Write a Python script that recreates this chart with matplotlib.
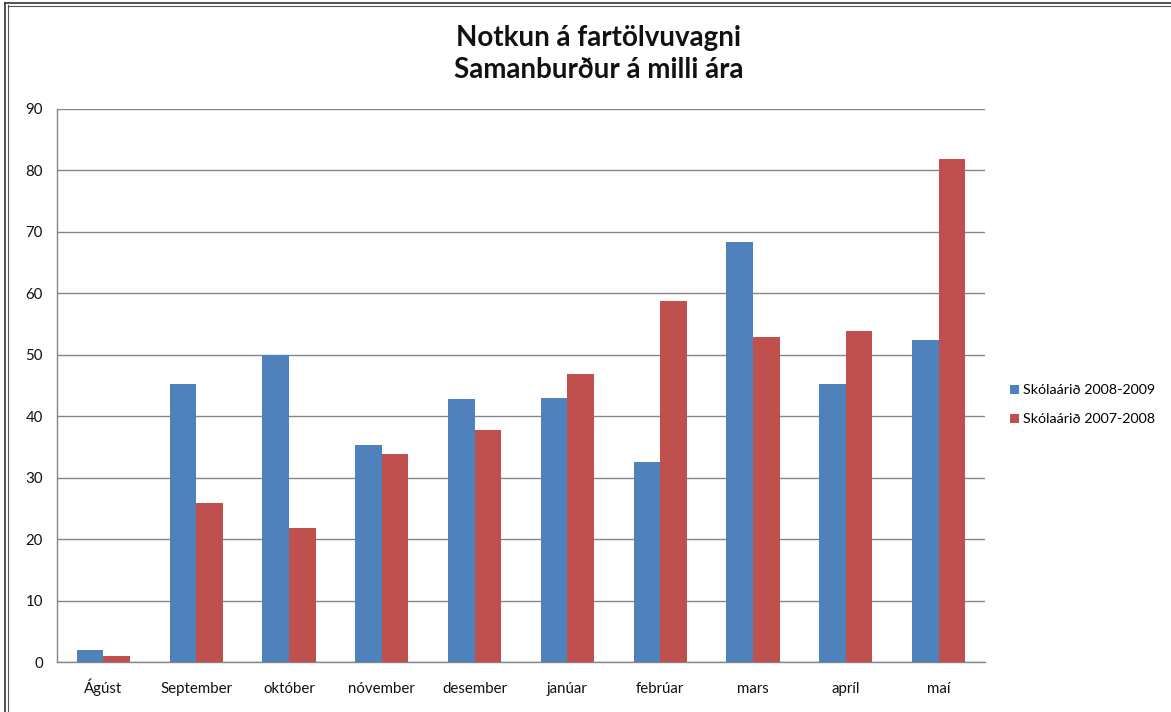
import matplotlib
matplotlib.use('Agg')
import matplotlib.pyplot as plt
from matplotlib.lines import Line2D
import numpy as np

plt.rcParams['font.family'] = ['Lato', 'DejaVu Sans']

# gögn lesin af myndinni
months = ['Ágúst', 'September', 'október', 'nóvember', 'desember',
          'janúar', 'febrúar', 'mars', 'apríl', 'maí']
year_2008_2009 = [2, 45.3, 50, 35.3, 42.8, 42.9, 32.5, 68.4, 45.3, 52.4]
year_2007_2008 = [1, 25.9, 21.8, 33.9, 37.8, 46.9, 58.8, 52.9, 53.8, 81.9]
series_labels = ['Skólaárið 2008-2009', 'Skólaárið 2007-2008']
yticks = list(range(0, 91, 10))

BLUE = '#4f81bd'
RED = '#c0504d'
GRID = '#868686'

fig = plt.figure(figsize=(11.71, 7.12), dpi=100)
ax = fig.add_axes([57 / 1171, 50 / 712, 928 / 1171, 553 / 712])

x = np.arange(len(months))
w = 1 / 3.5
ax.bar(x - w / 2, year_2008_2009, width=w, color=BLUE, label=series_labels[0], zorder=3)
ax.bar(x + w / 2, year_2007_2008, width=w, color=RED, label=series_labels[1], zorder=3)

ax.set_xlim(-0.5, len(months) - 0.5)
ax.set_ylim(0, 90)
ax.set_yticks(yticks)
ax.set_xticks(x)
ax.set_xticklabels(months, fontsize=10.8, va='baseline')
ax.tick_params(axis='both', length=0, labelsize=10.8, colors='#111111')
ax.tick_params(axis='x', pad=22.5)
ax.tick_params(axis='y', pad=10)
ax.yaxis.grid(True, color=GRID, linewidth=1, zorder=0)

for side in ['top', 'right']:
    ax.spines[side].set_visible(False)
for side in ['left', 'bottom']:
    ax.spines[side].set_color(GRID)
    ax.spines[side].set_linewidth(1)

fig.text(0.511, 0.947, 'Notkun á fartölvuvagni', ha='center', va='center',
         fontsize=20, fontweight='bold', color='#111111')
fig.text(0.511, 0.902, 'Samanburður á milli ára', ha='center', va='center',
         fontsize=20, fontweight='bold', color='#111111')

ax.legend(loc='center left', bbox_to_anchor=(1.013, 0.465), frameon=False,
          fontsize=10.3, handlelength=0.6, handleheight=0.6, handletextpad=0.3,
          labelspacing=1.2)

# ramminn utan um myndina
fig.add_artist(Line2D([5 / 1171, 5 / 1171], [0, 1 - 3 / 712], color='#333333', lw=1.2))
fig.add_artist(Line2D([7.5 / 1171, 7.5 / 1171], [0, 1 - 5 / 712], color='#555555', lw=0.8))
fig.add_artist(Line2D([5 / 1171, 1], [1 - 3 / 712, 1 - 3 / 712], color='#333333', lw=1.2))
fig.add_artist(Line2D([7.5 / 1171, 1], [1 - 5.5 / 712, 1 - 5.5 / 712], color='#555555', lw=0.8))

fig.savefig('out.png', dpi=100, facecolor='white')
